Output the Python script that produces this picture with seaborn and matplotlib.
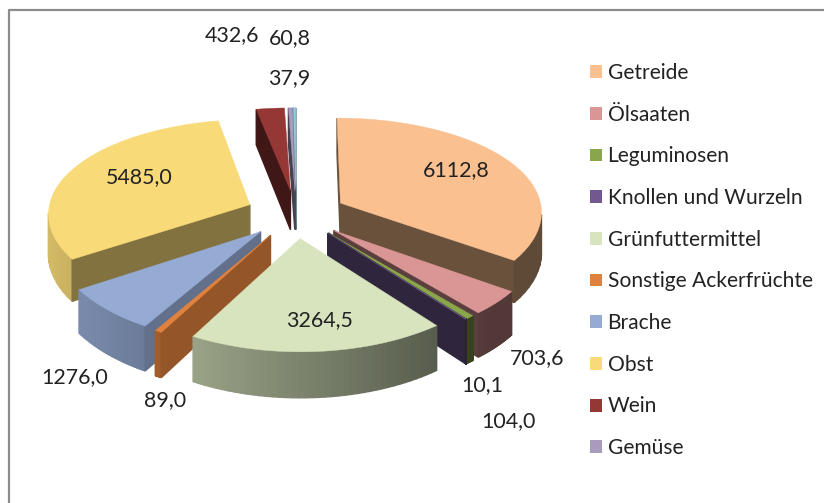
import numpy as np
import matplotlib
matplotlib.use("Agg")
import matplotlib.pyplot as plt
import seaborn as sns
from matplotlib.lines import Line2D
from matplotlib.patches import Patch, Polygon

# Flaechennutzung, one value per slice, clockwise from 12 o'clock
categories = ["Getreide", "Ölsaaten", "Leguminosen", "Knollen und Wurzeln", "Grünfuttermittel",
              "Sonstige Ackerfrüchte", "Brache", "Obst", "Wein", "Gemüse", ""]
values = [6112.8, 703.6, 104.0, 10.1, 3264.5, 89.0, 1276.0, 5485.0, 432.6, 60.8, 37.9]
value_labels = ["6112,8", "703,6", "104,0", "10,1", "3264,5", "89,0", "1276,0", "5485,0", "432,6", "60,8", "37,9"]
colors = ["#FAC090", "#D99694", "#8AA64A", "#71588F", "#D7E4BD", "#E0823D",
          "#95ABD4", "#F8DA78", "#953735", "#A99BBD", "#93CDDD"]

# label centres in pixels, the chart has them dragged around by hand
label_pos = [(456, 170), (537, 358), (508, 421), (482, 385), (320, 320), (165, 400),
             (75, 377), (139, 177), (232, 35), (290, 38), (289, 78)]

CX, CY = 296, 214      # pie centre on screen
SX, SY = 202, 96       # unit radius in px
PX, PY = 0.083, 0.104  # perspective, front of the pie gets bigger
DEPTH = 40

sns.set_theme(style="white")
plt.rcParams["font.family"] = ["Lato", "DejaVu Sans"]


def project(u, y, z=0.0):
    # y is up in pie coordinates, so the viewer sits at -y
    v = -np.asarray(y)
    sx = 1 / (1 - PX * v)
    sy = 1 / (1 - PY * v)
    return np.column_stack([CX + SX * np.asarray(u) * sx, CY + SY * v * sy + z * DEPTH * sy])


def shade(col, f):
    return tuple(np.array(matplotlib.colors.to_rgb(col)) * f)


fig = plt.figure(figsize=(8.24, 5.03), dpi=100)

# let pie work out the angles and the explode offsets, then draw the solid from those wedges
tmp = fig.add_axes([0, 0, 1, 1])
wedges, _ = tmp.pie(values, startangle=90, counterclock=False, explode=[0.25] * len(values), radius=1)
geom = [(w.center, w.r, w.theta1, w.theta2) for w in wedges]
tmp.remove()

ax = fig.add_axes([0, 0, 1, 1])
ax.set_xlim(0, 824)
ax.set_ylim(503, 0)
ax.axis("off")

# back to front
order = sorted(range(len(values)), key=lambda i: -geom[i][0][1])
z = 1
for i in order:
    (cu, cy), r, t1, t2 = geom[i]
    th = np.radians(np.linspace(t1, t2, 41))
    u = np.r_[cu, cu + r * np.cos(th)]
    y = np.r_[cy, cy + r * np.sin(th)]
    top = project(u, y)
    bot = project(u, y, 1.0)
    n = len(u)
    for a in range(n):
        b = (a + 1) % n
        quad = np.array([top[a], top[b], bot[b], bot[a]])
        area = np.sum(quad[:, 0] * np.roll(quad[:, 1], -1) - np.roll(quad[:, 0], -1) * quad[:, 1])
        if area <= 0:      # faces away from the viewer
            continue
        nx = (y[b] - y[a]) / np.hypot(u[b] - u[a], y[b] - y[a])
        if a == 0 or b == 0:
            f = 0.42 + 0.42 * max(nx - 0.3, 0)   # cut faces
        else:
            f = max(0.38, 0.58 - 0.28 * nx)      # outer rim, light from the left
        c = shade(colors[i], f)
        ax.add_patch(Polygon(quad, closed=True, fc=c, ec=c, lw=1.0, zorder=z))
    z += 1
    ax.add_patch(Polygon(top, closed=True, fc=colors[i], ec=colors[i], lw=0.3, zorder=z))
    z += 1

for txt, (px, py) in zip(value_labels, label_pos):
    ax.text(px, py, txt, ha="center", va="center", fontsize=15.4, color="#222222", zorder=z)

handles = [Patch(fc=c, ec="none", label=l) for c, l in zip(colors, categories) if l]
ax.legend(handles=handles, loc="upper left", bbox_to_anchor=(590 / 824, 1 - 63 / 503), frameon=False,
          fontsize=15.1, labelspacing=1.034, handlelength=0.57, handleheight=0.57, handletextpad=0.27,
          labelcolor="#222222", borderpad=0, borderaxespad=0)

# outer frame of the screenshot, only top and left are in the crop
fig.add_artist(Line2D([9 / 824, 9 / 824, 1], [0, 1 - 10 / 503, 1 - 10 / 503], color="#8c8c8c", lw=1.6))

fig.savefig("out.png", dpi=100, facecolor="white")
